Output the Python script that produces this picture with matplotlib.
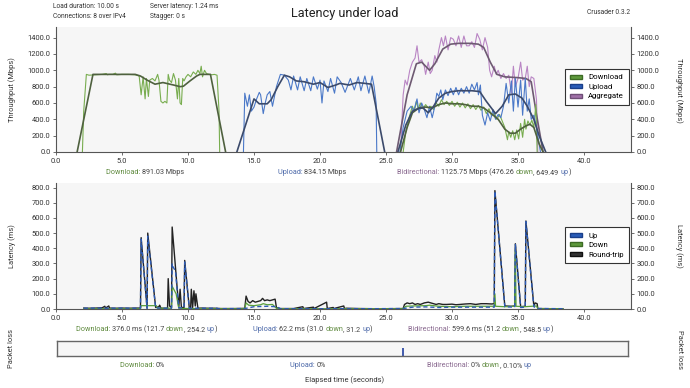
import matplotlib
matplotlib.use("Agg")
import matplotlib.pyplot as plt
from matplotlib.patches import Patch

plt.rcParams['font.family'] = ['Roboto', 'DejaVu Sans']

# === throughput data (Mbps) ===
dl_raw_t = [2.0, 2.1, 2.3, 2.5, 3.0, 3.5, 3.8, 3.9, 4.0, 4.3, 4.5, 4.6, 5.0, 5.5, 6.0, 6.3, 6.45, 6.6, 6.75, 6.85, 7.0,
            7.1, 7.3, 7.5, 7.7, 7.8, 7.95, 8.1, 8.25, 8.4, 8.5, 8.6, 8.75, 8.9, 9.05, 9.2, 9.3, 9.4, 9.5, 9.6, 9.7,
            9.85, 10.0, 10.2, 10.4, 10.6, 10.75, 10.9, 11.0, 11.1, 11.25, 11.4, 11.6, 11.8, 12.0, 12.2, 12.35, 12.4]
dl_raw_v = [0, 500, 950, 940, 945, 950, 960, 945, 950, 950, 965, 945, 950, 950, 945, 930, 700, 920, 650, 900, 680,
            880, 900, 870, 950, 880, 620, 600, 620, 600, 950, 880, 850, 960, 880, 650, 900, 600, 580, 900, 870,
            920, 950, 920, 980, 950, 1000, 960, 1050, 920, 1000, 960, 950, 945, 950, 940, 500, 0]
dl_sm_t = [1.6, 2.8, 4.0, 6.0, 6.4, 6.9, 7.5, 8.1, 8.9, 9.4, 9.65, 10.15, 10.65, 10.9, 11.7, 12.85]
dl_sm_v = [0, 950, 950, 950, 930, 880, 830, 850, 820, 800, 805, 870, 930, 950, 950, 0]

ul_raw_t = [14.2, 14.3, 14.5, 14.65, 14.8, 15.0, 15.2, 15.4, 15.5, 15.7, 15.85, 16.0, 16.2, 16.4, 16.7, 17.0, 17.3,
            17.6, 17.8, 18.0, 18.3, 18.5, 18.8, 19.0, 19.3, 19.5, 19.8, 20.0, 20.15, 20.3, 20.6, 20.8, 21.1, 21.3,
            21.6, 21.9, 22.3, 22.6, 22.9, 23.1, 23.4, 23.7, 23.95, 24.1, 24.25, 24.3]
ul_raw_v = [0, 720, 560, 700, 500, 550, 650, 730, 700, 470, 600, 700, 740, 560, 800, 950, 940, 880, 760, 930, 760,
            920, 750, 900, 750, 920, 770, 880, 600, 870, 740, 900, 720, 920, 850, 730, 900, 760, 920, 750, 930,
            720, 930, 800, 600, 0]
ul_sm_t = [13.7, 15.0, 15.4, 16.0, 16.3, 16.8, 17.3, 17.7, 18.2, 18.8, 19.5, 20.0, 20.6, 21.2, 21.5, 22.2, 22.8,
           23.4, 23.9, 24.9]
ul_sm_v = [0, 650, 590, 590, 640, 800, 940, 920, 870, 860, 830, 850, 790, 820, 840, 820, 850, 840, 830, 0]

bd_dl_raw_t = [26.3, 26.5, 26.8, 27.0, 27.15, 27.3, 27.45, 27.6, 27.8, 28.0, 28.2, 28.4, 28.6, 28.8, 29.0, 29.2,
               29.4, 29.6, 29.8, 30.0, 30.2, 30.4, 30.6, 30.8, 31.0, 31.2, 31.4, 31.6, 31.8, 32.0, 32.2, 32.4,
               32.6, 32.8, 33.0, 33.2, 33.4, 33.6, 33.8, 34.0, 34.2, 34.3, 34.45, 34.6, 34.75, 34.9, 35.05, 35.2,
               35.35, 35.5, 35.6, 35.75, 35.9, 36.05, 36.2, 36.35, 36.45]
bd_dl_raw_v = [0, 250, 450, 560, 500, 620, 520, 600, 530, 580, 540, 560, 520, 600, 560, 640, 580, 620, 570, 620,
               560, 610, 550, 600, 540, 590, 530, 580, 520, 570, 510, 550, 470, 530, 440, 480, 400, 460, 380, 300,
               150, 250, 180, 260, 150, 270, 160, 350, 180, 400, 280, 380, 330, 390, 300, 580, 0]
bd_dl_sm_t = [26.1, 26.6, 27.0, 27.5, 28.0, 28.5, 29.0, 29.5, 30.0, 30.5, 31.0, 31.5, 32.0, 32.4, 32.9, 33.5, 34.0,
              34.4, 34.8, 35.2, 35.6, 35.9, 36.2, 36.6, 36.9]
bd_dl_sm_v = [0, 300, 480, 540, 550, 540, 580, 600, 590, 590, 580, 560, 560, 540, 480, 400, 280, 230, 230, 280,
              320, 340, 300, 100, 0]

bd_ul_raw_t = [26.05, 26.3, 26.6, 26.9, 27.1, 27.35, 27.5, 27.7, 27.9, 28.1, 28.3, 28.5, 28.7, 28.85, 29.0, 29.15,
               29.3, 29.5, 29.7, 29.9, 30.1, 30.3, 30.5, 30.7, 30.9, 31.1, 31.3, 31.5, 31.7, 31.9, 32.0, 32.15,
               32.3, 32.5, 32.7, 32.9, 33.1, 33.3, 33.5, 33.7, 33.9, 34.1, 34.3, 34.5, 34.65, 34.8, 35.0, 35.2,
               35.35, 35.55, 35.7, 35.85, 36.0, 36.2, 36.4, 36.7]
bd_ul_raw_v = [0, 300, 500, 560, 500, 650, 480, 600, 520, 420, 560, 420, 560, 720, 680, 760, 640, 760, 690, 780,
               700, 790, 700, 780, 720, 800, 720, 830, 760, 850, 700, 820, 450, 330, 480, 380, 520, 400, 460, 420,
               560, 840, 600, 870, 500, 900, 550, 880, 450, 900, 500, 650, 400, 450, 300, 0]
bd_ul_sm_t = [25.9, 26.5, 27.0, 27.4, 27.8, 28.2, 28.6, 29.0, 29.5, 30.0, 30.5, 31.0, 31.5, 32.1, 32.6, 33.3, 33.8,
              34.3, 34.8, 35.3, 35.7, 36.2, 36.6, 37.1]
bd_ul_sm_v = [0, 330, 500, 530, 540, 480, 560, 660, 720, 740, 750, 750, 750, 740, 620, 470, 560, 700, 710, 660,
              560, 400, 200, 0]

bd_agg_raw_t = [26.1, 26.3, 26.45, 26.6, 26.8, 27.0, 27.2, 27.35, 27.5, 27.7, 27.9, 28.0, 28.2, 28.35, 28.5, 28.7,
                28.85, 29.0, 29.2, 29.35, 29.5, 29.7, 29.9, 30.1, 30.3, 30.5, 30.7, 30.9, 31.1, 31.3, 31.5, 31.7,
                31.9, 32.1, 32.3, 32.5, 32.7, 32.85, 33.0, 33.2, 33.35, 33.5, 33.7, 33.9, 34.1, 34.3, 34.5, 34.65,
                34.8, 35.0, 35.2, 35.35, 35.55, 35.7, 35.85, 36.0, 36.2, 36.4, 36.5]
bd_agg_raw_v = [0, 700, 880, 820, 1000, 1100, 1150, 1300, 1100, 1130, 1050, 950, 1100, 960, 1000, 1180, 1100, 1250,
                1400, 1300, 1420, 1250, 1400, 1380, 1300, 1420, 1280, 1420, 1300, 1300, 1350, 1280, 1450, 1380,
                1250, 1400, 1280, 1000, 920, 1050, 950, 1000, 900, 960, 900, 940, 720, 1050, 800, 900, 1100, 880,
                900, 1050, 800, 920, 900, 640, 0]
bd_agg_sm_t = [25.8, 26.6, 27.3, 27.7, 28.3, 28.7, 29.3, 29.9, 30.5, 31.3, 32.0, 32.4, 32.9, 33.4, 34.0, 35.0,
               35.6, 36.0, 36.4, 36.9]
bd_agg_sm_v = [0, 700, 1080, 1100, 1000, 1080, 1260, 1320, 1330, 1330, 1320, 1280, 1100, 950, 920, 910, 900, 860,
               460, 0]

# === latency data (ms) ===
rtt_t = [2.1, 2.5, 3.0, 3.5, 3.7, 3.75, 4.0, 4.05, 4.5, 5.0, 5.5, 6.0, 6.4, 6.45, 6.9, 6.95, 7.55, 7.8, 7.85, 7.95,
         8.45, 8.5, 8.6, 8.75, 8.8, 9.3, 9.4, 9.5, 9.7, 9.75, 10.1, 10.2, 10.25, 10.35, 10.45, 10.55, 10.6, 10.75,
         11.0, 11.5, 12.0, 12.5, 13.0, 13.5, 14.3, 14.4, 14.55, 14.7, 14.9, 15.1, 15.3, 15.5, 15.65, 15.8, 16.0,
         16.2, 16.4, 16.6, 16.7, 17.0, 18.0, 18.7, 18.75, 19.5, 19.55, 20.5, 20.55, 21.0, 21.05, 21.8, 21.85, 22.0,
         23.0, 24.0, 25.0, 26.3, 26.4, 26.6, 26.8, 27.0, 27.2, 27.4, 27.6, 27.9, 28.2, 28.4, 28.6, 28.8, 29.0, 29.3,
         29.6, 30.0, 30.3, 30.6, 31.0, 31.4, 31.8, 32.2, 32.6, 33.0, 33.2, 33.25, 34.0, 34.5, 34.75, 34.8, 35.2,
         35.55, 35.6, 36.2, 36.3, 36.45, 36.5, 37.5, 38.4]
rtt_v = [6, 5, 6, 8, 18, 6, 20, 6, 5, 6, 5, 6, 6, 470, 5, 500, 10, 15, 25, 5,
         5, 200, 20, 10, 540, 10, 130, 10, 10, 320, 5, 5, 130, 10, 120, 20, 100, 5,
         6, 5, 5, 3, 3, 3, 4, 85, 50, 40, 55, 45, 50, 55, 70, 55, 60,
         55, 60, 65, 8, 3, 3, 15, 3, 12, 3, 45, 3, 10, 3, 20, 3, 5,
         3, 2, 2, 3, 30, 40, 35, 40, 30, 35, 30, 40, 45, 40, 35, 30, 35, 30,
         30, 32, 28, 30, 33, 35, 30, 35, 35, 33, 35, 780, 20, 18, 20, 430, 15,
         18, 580, 20, 40, 35, 3, 2, 2]

up_t = [2.1, 3.0, 4.0, 5.0, 6.0, 6.4, 6.45, 6.9, 6.95, 7.55, 8.0, 8.75, 8.8, 8.85, 9.05, 9.3, 9.7, 9.75, 10.1,
        11.0, 12.2, 12.3, 14.3, 15.0, 16.0, 16.7, 17.0, 20.0, 24.0, 26.3, 27.0, 28.0, 29.0, 30.0, 31.0, 32.0,
        33.0, 33.2, 33.25, 34.0, 34.75, 34.8, 35.2, 35.55, 35.6, 36.2, 36.5, 38.4]
up_v = [5, 6, 5, 6, 5, 5, 460, 5, 480, 8, 5, 5, 300, 280, 250, 8, 8, 310, 5,
        5, 5, 2, 3, 15, 18, 15, 2, 2, 2, 3, 12, 14, 10, 12, 12, 12,
        12, 12, 775, 15, 12, 425, 10, 12, 575, 15, 3, 2]

down_t = [2.1, 4.0, 6.0, 6.4, 6.45, 7.6, 7.7, 8.75, 8.8, 9.1, 9.3, 10.0, 12.2, 14.3, 14.4, 14.6, 15.0, 15.5, 15.7,
          16.0, 16.4, 16.7, 17.0, 20.0, 24.0, 26.3, 26.5, 27.0, 28.0, 28.3, 29.0, 30.0, 31.0, 32.0, 33.0, 33.2,
          33.25, 33.3, 34.0, 34.75, 34.8, 34.85, 35.5, 36.4, 36.5, 38.4]
down_v = [2, 2, 2, 2, 22, 22, 5, 5, 150, 100, 5, 3, 2, 2, 40, 25, 22, 28, 35,
          28, 30, 5, 2, 2, 2, 2, 18, 20, 22, 25, 18, 15, 18, 18, 18, 18,
          100, 18, 15, 18, 390, 18, 15, 20, 2, 2]

loss_up_t = [26.2]
loss_up_v = [0.55]

# === labels ===
x_ticks = [0, 5, 10, 15, 20, 25, 30, 35, 40]
tp_ticks = [0, 200, 400, 600, 800, 1000, 1200, 1400]
lat_ticks = [0, 100, 200, 300, 400, 500, 600, 700, 800]

SMALL = 5.2
W, H = 690, 388
fig = plt.figure(figsize=(W / 100, H / 100), dpi=100)
renderer = fig.canvas.get_renderer()


def px(l, t, r, b):
    return [l / W, 1 - b / H, (r - l) / W, (b - t) / H]


def style_axes(ax, yticks):
    ax.set_facecolor('#f6f6f6')
    ax.set_xlim(0, 43.56)
    ax.set_xticks(x_ticks)
    ax.set_xticklabels([f"{v:.1f}" for v in x_ticks])
    ax.set_yticks(yticks)
    ax.set_yticklabels([f"{v:.1f}" for v in yticks])
    ax.spines['top'].set_visible(False)
    for s in ['left', 'right', 'bottom']:
        ax.spines[s].set_color('#555555')
        ax.spines[s].set_linewidth(0.8)
    ax.tick_params(axis='both', length=2.5, width=0.6, color='#555555', labelsize=5.4,
                   labelcolor='#333333', pad=1.5)
    ax.tick_params(axis='y', right=True, labelright=True)


# --- throughput ---
ax1 = fig.add_axes(px(56, 27, 631, 152))
style_axes(ax1, tp_ticks)
ax1.set_ylim(0, 1530)
ax1.plot(dl_raw_t, dl_raw_v, color='#78ad4f', lw=0.8)
ax1.plot(dl_sm_t, dl_sm_v, color='#4f613f', lw=1.2)
ax1.plot(ul_raw_t, ul_raw_v, color='#4a78c8', lw=0.8)
ax1.plot(ul_sm_t, ul_sm_v, color='#3b4a6b', lw=1.2)
ax1.plot(bd_agg_raw_t, bd_agg_raw_v, color='#b985c4', lw=0.8)
ax1.plot(bd_agg_sm_t, bd_agg_sm_v, color='#6e5a72', lw=1.2)
ax1.plot(bd_dl_raw_t, bd_dl_raw_v, color='#78ad4f', lw=0.8)
ax1.plot(bd_ul_raw_t, bd_ul_raw_v, color='#4a78c8', lw=0.8)
ax1.plot(bd_dl_sm_t, bd_dl_sm_v, color='#4f613f', lw=1.2)
ax1.plot(bd_ul_sm_t, bd_ul_sm_v, color='#3b4a6b', lw=1.2)
h1 = [Patch(facecolor='#5e9a3c', edgecolor='#3d6b25', label='Download'),
      Patch(facecolor='#2a5cb8', edgecolor='#1a3f8a', label='Upload'),
      Patch(facecolor='#a070a8', edgecolor='#6f4f77', label='Aggregate')]
leg1 = ax1.legend(handles=h1, loc='upper right', bbox_to_anchor=(0.997, 0.664), fontsize=5.6,
                  fancybox=False, framealpha=1, edgecolor='#333333', handlelength=1.5, handleheight=0.45,
                  borderpad=0.7, labelspacing=0.45, handletextpad=0.8, borderaxespad=0)
leg1.get_frame().set_linewidth(0.8)

# --- latency ---
ax2 = fig.add_axes(px(56, 183, 631, 309))
style_axes(ax2, lat_ticks)
ax2.set_ylim(0, 830)
ax2.plot(rtt_t, rtt_v, color='#222222', lw=1.0)
ax2.plot(down_t, down_v, color='#5aa03a', lw=0.9)
ax2.plot(up_t, up_v, color='#2d5bb5', lw=1.0, dashes=(3, 2))
h2 = [Patch(facecolor='#2a5cb8', edgecolor='#1a3f8a', label='Up'),
      Patch(facecolor='#5e9a3c', edgecolor='#3d6b25', label='Down'),
      Patch(facecolor='#333333', edgecolor='#111111', label='Round-trip')]
leg2 = ax2.legend(handles=h2, loc='upper right', bbox_to_anchor=(0.997, 0.65), fontsize=5.6,
                  fancybox=False, framealpha=1, edgecolor='#333333', handlelength=1.5, handleheight=0.45,
                  borderpad=0.7, labelspacing=0.45, handletextpad=0.8, borderaxespad=0)
leg2.get_frame().set_linewidth(0.8)

# --- packet loss ---
ax3 = fig.add_axes(px(57, 341, 628, 356))
ax3.set_facecolor('#f6f6f6')
ax3.set_xlim(0, 43.3)
ax3.set_ylim(0, 1)
ax3.set_xticks([])
ax3.set_yticks([])
for s in ax3.spines.values():
    s.set_color('#666666')
    s.set_linewidth(1.0)
ax3.vlines(loss_up_t, 0, loss_up_v, color='#2340a0', lw=1.2)

# --- texts ---
GREEN, BLUE, PURPLE, GRAY = '#5f8a3e', '#4a67a8', '#8a6a90', '#444444'


def seg_text(x, y, parts, size=SMALL):
    # pieces of different colour on one baseline, measured one after the other
    xp = x
    for s, c in parts:
        t = fig.text(xp / W, 1 - (y + 2) / H, s, color=c, fontsize=size, ha='left', va='baseline')
        xp += t.get_window_extent(renderer).width


seg_text(106, 172, [("Download: ", GREEN), ("891.03 Mbps", GRAY)])
seg_text(278, 172, [("Upload: ", BLUE), ("834.15 Mbps", GRAY)])
seg_text(397, 172, [("Bidirectional: ", PURPLE), ("1125.75 Mbps (476.26 ", GRAY), ("down", GREEN),
                    (", 649.49 ", GRAY), ("up", BLUE), (")", GRAY)])

seg_text(76, 329, [("Download: ", GREEN), ("376.0 ms (121.7 ", GRAY), ("down", GREEN), (", 254.2 ", GRAY),
                   ("up", BLUE), (")", GRAY)])
seg_text(253, 329, [("Upload: ", BLUE), ("62.2 ms (31.0 ", GRAY), ("down", GREEN), (", 31.2 ", GRAY),
                    ("up", BLUE), (")", GRAY)])
seg_text(408, 329, [("Bidirectional: ", PURPLE), ("599.6 ms (51.2 ", GRAY), ("down", GREEN), (", 548.5 ", GRAY),
                    ("up", BLUE), (")", GRAY)])

seg_text(120, 365, [("Download: ", GREEN), ("0%", GRAY)])
seg_text(290, 365, [("Upload: ", BLUE), ("0%", GRAY)])
seg_text(427, 365, [("Bidirectional: ", PURPLE), ("0% ", GRAY), ("down", GREEN), (", 0.10% ", GRAY),
                    ("up", BLUE)])

fig.text(345 / W, 1 - 13 / H, "Latency under load", fontsize=9.2, color='#222222', ha='center', va='center')
fig.text(53 / W, 1 - 7 / H, "Load duration: 10.00 s", fontsize=4.8, color='#333333', va='center')
fig.text(53 / W, 1 - 17 / H, "Connections: 8 over IPv4", fontsize=4.8, color='#333333', va='center')
fig.text(150 / W, 1 - 7 / H, "Server latency: 1.24 ms", fontsize=4.8, color='#333333', va='center')
fig.text(150 / W, 1 - 17 / H, "Stagger: 0 s", fontsize=4.8, color='#333333', va='center')
fig.text(630 / W, 1 - 13 / H, "Crusader 0.3.2", fontsize=4.8, color='#333333', ha='right', va='center')

for label, yc in [("Throughput (Mbps)", 90), ("Latency (ms)", 246), ("Packet loss", 349)]:
    fig.text(12 / W, 1 - yc / H, label, fontsize=5.4, color='#333333', rotation=90, ha='center', va='center')
    fig.text(679 / W, 1 - yc / H, label, fontsize=5.4, color='#333333', rotation=270, ha='center', va='center')

fig.text(345 / W, 1 - 380 / H, "Elapsed time (seconds)", fontsize=5.4, color='#333333', ha='center', va='center')

fig.savefig("out.png", dpi=100, facecolor='white')
